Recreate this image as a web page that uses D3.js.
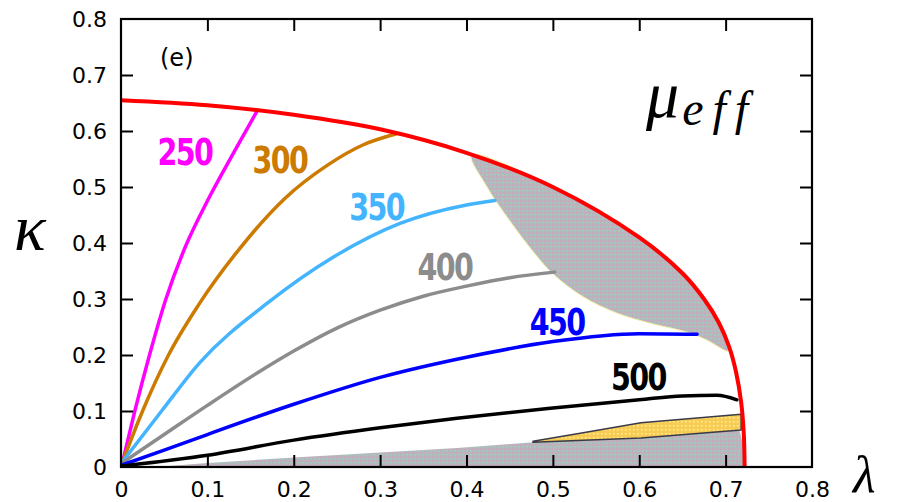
<!DOCTYPE html>
<html>
<head>
<meta charset="utf-8">
<script src="https://cdn.jsdelivr.net/npm/d3@7"></script>
<style>
	body { margin: 0; background: #fff; }
	svg { display: block; }
</style>
</head>
<body>
<div id="chart"></div>
<script>
// axis ticks
const tickValues = [0, 0.1, 0.2, 0.3, 0.4, 0.5, 0.6, 0.7, 0.8];

// outer red boundary
const boundaryLam = [0, 0.1, 0.2, 0.3, 0.4, 0.5, 0.6, 0.65, 0.675, 0.692, 0.704, 0.712, 0.718, 0.721, 0.722];
const boundaryKap = [0.655, 0.646, 0.629, 0.603, 0.561, 0.5, 0.41, 0.346, 0.3, 0.258, 0.215, 0.17, 0.115, 0.06, 0];

// contour lines
const seriesNames = ['250', '300', '350', '400', '450', '500'];
const seriesColors = ['#ff00ff', '#cc7a00', '#44b4ff', '#8c8c8c', '#0000ff', '#000000'];
const lam250 = [0.002, 0.016, 0.033, 0.052, 0.075, 0.1, 0.13, 0.158];
const kap250 = [0.01, 0.1, 0.2, 0.3, 0.395, 0.475, 0.56, 0.637];
const lam300 = [0.002, 0.025, 0.055, 0.09, 0.14, 0.19, 0.24, 0.28, 0.319];
const kap300 = [0.01, 0.1, 0.2, 0.29, 0.395, 0.48, 0.54, 0.575, 0.595];
const lam350 = [0.002, 0.047, 0.091, 0.169, 0.246, 0.323, 0.4, 0.433];
const kap350 = [0.01, 0.1, 0.186, 0.292, 0.375, 0.435, 0.468, 0.476];
const lam400 = [0.002, 0.05, 0.1, 0.16, 0.2, 0.25, 0.3, 0.35, 0.4, 0.45, 0.502];
const kap400 = [0.008, 0.058, 0.11, 0.17, 0.207, 0.248, 0.28, 0.305, 0.323, 0.338, 0.348];
const lam450 = [0.002, 0.05, 0.1, 0.2, 0.3, 0.4, 0.5, 0.6, 0.667];
const kap450 = [0.004, 0.03, 0.058, 0.112, 0.16, 0.196, 0.224, 0.238, 0.237];
const lam500 = [0.002, 0.1, 0.2, 0.3, 0.389, 0.497, 0.6, 0.65, 0.69, 0.713];
const kap500 = [0.002, 0.021, 0.048, 0.07, 0.087, 0.105, 0.12, 0.127, 0.128, 0.12];

// shaded region near the boundary (upper)
const shadeTopLam = [0.406, 0.5, 0.6, 0.65, 0.675, 0.692, 0.703];
const shadeTopKap = [0.557, 0.5, 0.41, 0.346, 0.3, 0.258, 0.218];
const shadeLowLam = [0.703, 0.678, 0.655, 0.612, 0.574, 0.535, 0.5, 0.477, 0.45, 0.423, 0.406];
const shadeLowKap = [0.207, 0.227, 0.241, 0.257, 0.275, 0.304, 0.345, 0.385, 0.44, 0.502, 0.557];

// shaded region along the bottom
const floorLam = [0.04, 0.1, 0.2, 0.3, 0.389, 0.477, 0.602, 0.716, 0.72, 0.722, 0.04];
const floorKap = [0, 0.007, 0.017, 0.026, 0.034, 0.044, 0.052, 0.066, 0.04, 0, 0];

// yellow sliver
const sliverLam = [0.477, 0.535, 0.602, 0.718, 0.718, 0.602, 0.477];
const sliverKap = [0.046, 0.061, 0.079, 0.094, 0.066, 0.052, 0.044];

// line labels (data coords of label centre / baseline)
const labelLam = [0.074, 0.184, 0.296, 0.375, 0.505, 0.599];
const labelKap = [0.539, 0.525, 0.441, 0.334, 0.236, 0.138];

const zip = (a, b) => a.map((v, i) => [v, b[i]]);

const W = 898, H = 502;
const svg = d3.select('#chart').append('svg').attr('width', W).attr('height', H);

const x = d3.scaleLinear().domain([0, 0.8]).range([121, 812]);
const y = d3.scaleLinear().domain([0, 0.8]).range([467, 19]);

const defs = svg.append('defs');
defs.append('clipPath').attr('id', 'plot')
	.append('rect').attr('x', 121).attr('y', 19).attr('width', 691).attr('height', 448);

// dotted halftone fills
const grayPat = defs.append('pattern').attr('id', 'grayPat').attr('patternUnits', 'userSpaceOnUse')
	.attr('width', 4).attr('height', 4);
grayPat.append('rect').attr('width', 4).attr('height', 4).attr('fill', '#b6b6b6');
grayPat.append('rect').attr('x', 0).attr('y', 0).attr('width', 1.5).attr('height', 1.5).attr('fill', '#cda6c9');
grayPat.append('rect').attr('x', 2).attr('y', 2).attr('width', 1.5).attr('height', 1.5).attr('fill', '#a6cccc');

const yelPat = defs.append('pattern').attr('id', 'yelPat').attr('patternUnits', 'userSpaceOnUse')
	.attr('width', 4).attr('height', 4);
yelPat.append('rect').attr('width', 4).attr('height', 4).attr('fill', '#f6cc55');
yelPat.append('rect').attr('x', 1).attr('y', 1).attr('width', 1.5).attr('height', 1.5).attr('fill', '#fff0a0');

const line = d3.line().x(d => x(d[0])).y(d => y(d[1])).curve(d3.curveMonotoneX);
const smooth = d3.line().x(d => x(d[0])).y(d => y(d[1])).curve(d3.curveCatmullRom.alpha(0.5));
const outline = d3.line().x(d => x(d[0])).y(d => y(d[1])).curve(d3.curveCatmullRomClosed.alpha(0.5));
const area = d3.line().x(d => x(d[0])).y(d => y(d[1])).curve(d3.curveLinearClosed);

const plot = svg.append('g').attr('clip-path', 'url(#plot)');

// bottom shaded region
plot.append('path')
	.attr('d', area(zip(floorLam, floorKap)))
	.attr('fill', 'url(#grayPat)');

// yellow sliver
plot.append('path')
	.attr('d', area(zip(sliverLam, sliverKap)))
	.attr('fill', 'url(#yelPat)')
	.attr('stroke', '#3a3a4a')
	.attr('stroke-width', 1.5)
	.attr('stroke-linejoin', 'round');

// upper shaded region
const upperPts = zip(shadeTopLam, shadeTopKap).concat(zip(shadeLowLam, shadeLowKap).slice(0, -1));
plot.append('path')
	.attr('d', outline(upperPts))
	.attr('fill', 'url(#grayPat)')
	.attr('stroke', '#f4f0a0')
	.attr('stroke-width', 1);

// contour lines
const lams = [lam250, lam300, lam350, lam400, lam450, lam500];
const kaps = [kap250, kap300, kap350, kap400, kap450, kap500];
seriesNames.forEach((name, i) => {
	plot.append('path')
		.attr('d', line(zip(lams[i], kaps[i])))
		.attr('fill', 'none')
		.attr('stroke', seriesColors[i])
		.attr('stroke-width', 3.5)
		.attr('stroke-linecap', 'round');
});

// red boundary
plot.append('path')
	.attr('d', smooth(zip(boundaryLam, boundaryKap)))
	.attr('fill', 'none')
	.attr('stroke', '#ff0000')
	.attr('stroke-width', 4);

// line labels
seriesNames.forEach((name, i) => {
	svg.append('text')
		.attr('x', x(labelLam[i]))
		.attr('y', y(labelKap[i]))
		.attr('text-anchor', 'middle')
		.attr('textLength', 55)
		.attr('lengthAdjust', 'spacingAndGlyphs')
		.style('font-family', 'DejaVu Sans')
		.style('font-weight', 'bold')
		.style('font-size', '37px')
		.style('letter-spacing', '-2px')
		.attr('fill', seriesColors[i])
		.text(name);
});

// axes, ticks inward on all four sides
const fmt = d => d === 0 ? '0' : d3.format('.1f')(d);
const axBottom = svg.append('g').attr('transform', 'translate(0,467)')
	.call(d3.axisBottom(x).tickValues(tickValues).tickFormat(fmt).tickSizeInner(-12).tickSizeOuter(0).tickPadding(14));
const axLeft = svg.append('g').attr('transform', 'translate(121,0)')
	.call(d3.axisLeft(y).tickValues(tickValues).tickFormat(fmt).tickSizeInner(-12).tickSizeOuter(0).tickPadding(14));
const axTop = svg.append('g').attr('transform', 'translate(0,19)')
	.call(d3.axisTop(x).tickValues(tickValues.slice(1, -1)).tickFormat('').tickSizeInner(-12).tickSizeOuter(0));
const axRight = svg.append('g').attr('transform', 'translate(812,0)')
	.call(d3.axisRight(y).tickValues(tickValues.slice(1, -1)).tickFormat('').tickSizeInner(-12).tickSizeOuter(0));

[axBottom, axLeft, axTop, axRight].forEach(g => {
	g.select('.domain').remove();
	g.selectAll('.tick line').attr('stroke', '#000').attr('stroke-width', 2);
	g.selectAll('.tick text')
		.style('font-family', 'DejaVu Sans')
		.style('font-size', '22px')
		.attr('fill', '#000');
});
axBottom.selectAll('.tick').filter(d => d === 0 || d === 0.8).select('line').remove();
axLeft.selectAll('.tick').filter(d => d === 0 || d === 0.8).select('line').remove();

svg.append('rect')
	.attr('x', 121).attr('y', 19).attr('width', 691).attr('height', 448)
	.attr('fill', 'none').attr('stroke', '#000').attr('stroke-width', 2.2);

// panel tag
svg.append('text').attr('x', 160).attr('y', 66)
	.style('font-family', 'DejaVu Sans').style('font-size', '24px')
	.text('(e)');

// axis symbols
svg.append('text').attr('x', 14).attr('y', 250)
	.style('font-family', 'Liberation Serif').style('font-style', 'italic').style('font-size', '66px')
	.text('κ');
svg.append('text').attr('x', 853).attr('y', 492)
	.style('font-family', 'Liberation Serif').style('font-style', 'italic').style('font-size', '52px')
	.text('λ');

const mu = svg.append('text').attr('x', 646).attr('y', 117)
	.style('font-family', 'Liberation Serif').style('font-style', 'italic');
mu.append('tspan').style('font-size', '66px').text('μ');
mu.append('tspan').attr('dy', 8).attr('dx', 3).style('font-size', '48px').style('letter-spacing', '9px').text('eff');
</script>
</body>
</html>
